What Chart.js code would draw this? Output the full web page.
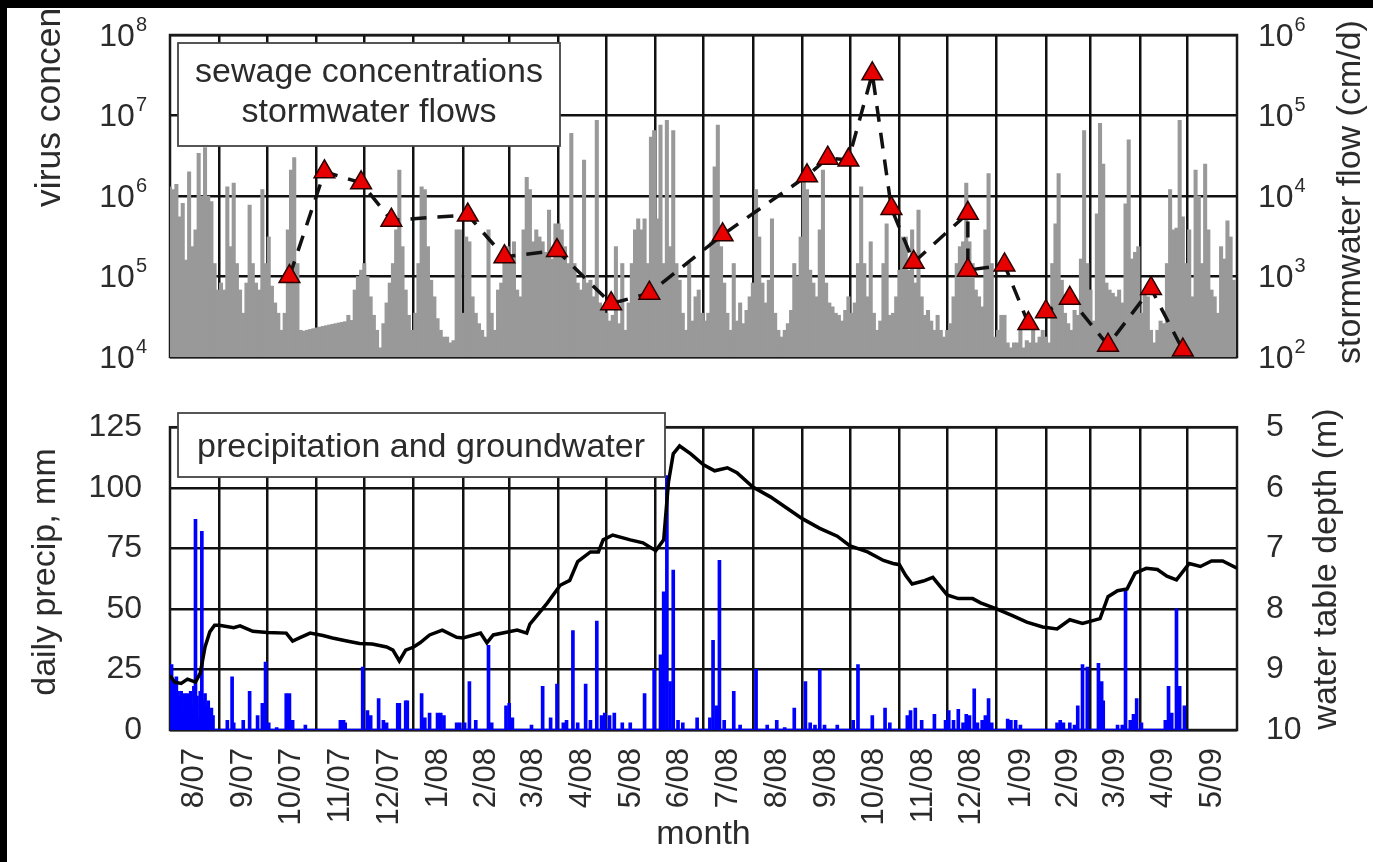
<!DOCTYPE html>
<html>
<head>
<meta charset="utf-8">
<script src="https://cdn.jsdelivr.net/npm/chart.js@4.4.1/dist/chart.umd.min.js"></script>
<style>
  html, body { margin: 0; padding: 0; background: #000; }
  #page { position: relative; width: 1373px; height: 862px; background: #fff; overflow: hidden; }
  canvas { position: absolute; left: 0; }
  #topChart { top: 0; }
  #bottomChart { top: 380px; }
  .mask { position: absolute; background: #000; z-index: 5; }
</style>
</head>
<body>
<div id="page">
  <canvas id="topChart" width="1373" height="380"></canvas>
  <canvas id="bottomChart" width="1373" height="482"></canvas>
  <div class="mask" style="left:0;top:0;width:1373px;height:8px"></div>
  <div class="mask" style="left:0;top:0;width:7px;height:862px"></div>
</div>
<script>
// --- data (x values are days since 1 Aug 2007) ---
const monthLabels = ['8/07', '9/07', '10/07', '11/07', '12/07', '1/08', '2/08', '3/08', '4/08', '5/08', '6/08',
  '7/08', '8/08', '9/08', '10/08', '11/08', '12/08', '1/09', '2/09', '3/09', '4/09', '5/09'];
const monthStartDays = [0, 31, 61, 92, 122, 153, 184, 213, 244, 274, 305, 335, 366, 397, 427, 458, 488, 519, 550, 578, 609, 639, 670];

const virusTicks = [1e4, 1e5, 1e6, 1e7, 1e8];
const flowTicks = [1e2, 1e3, 1e4, 1e5, 1e6];

// sewage virus concentrations (red triangles)
const virusDays = [75, 97, 120, 139, 187, 210, 243, 277, 301, 347, 400, 413, 426, 441, 453, 467, 501, 501, 524, 539, 550, 565, 589, 616, 636];
const virusConc = [1.0e5, 2.0e6, 1.46e6, 5.0e5, 5.8e5, 1.76e5, 2.1e5, 4.6e4, 6.2e4, 3.3e5, 1.78e6, 2.95e6, 2.8e6, 3.3e7,
  7.0e5, 1.5e5, 6.1e5, 1.2e5, 1.39e5, 2.6e4, 3.65e4, 5.35e4, 1.4e4, 7.1e4, 1.22e4];

// stormwater flow (cm/d), one value every 2 days
const flowStepDays = 2;
const flowCmPerDay = [
  // Aug 07
  13000, 12000, 14000, 5500, 8100, 1600, 20000, 2350, 3800, 34000, 10000, 40000, 10000, 8500, 1450, 680,
  // Sep 07
  830, 680, 13000, 2350, 14500, 1450, 680, 350, 830, 7700, 1450, 830, 680, 12000, 1450,
  // Oct 07
  3100, 760, 470, 350, 215, 350, 3800, 21000, 30000, 1450, 215, 210, 215, 220, 225,
  // Nov 07
  230, 235, 240, 245, 250, 255, 260, 265, 270, 275, 330, 285, 680, 1000, 1200,
  // Dec 07
  1450, 1000, 560, 330, 215, 130, 260, 470, 830, 1450, 3800, 21000, 2350, 680, 330, 215,
  // Jan 08
  350, 1450, 13000, 12000, 2350, 900, 560, 300, 215, 177, 177, 150, 160, 3800, 3800,
  // Feb 08
  350, 3100, 2700, 560, 350, 260, 215, 177, 3800, 350, 215, 680, 830, 1650, 2350,
  // Mar 08
  1450, 2700, 680, 560, 3800, 17000, 12000, 2700, 3800, 3100, 2700, 2000, 6700, 1650, 4500,
  // Apr 08
  4500, 3800, 2350, 1450, 60000, 1450, 830, 680, 28000, 830, 900, 560, 87000, 470, 420,
  // May 08
  350, 280, 330, 2350, 260, 1450, 215, 470, 1450, 3800, 5200, 3800, 5200, 1450, 54000, 65000,
  // Jun 08
  5200, 76000, 1450, 87000, 2350, 65000, 1450, 900, 350, 215, 1450, 280, 560, 680, 350,
  // Jul 08
  280, 350, 2700, 23000, 76000, 2350, 830, 350, 215, 1450, 280, 470, 260, 380, 560,
  // Aug 08
  830, 12000, 3100, 830, 470, 900, 5200, 350, 215, 177, 215, 260, 380, 1450, 1000, 3100,
  // Sep 08
  16000, 12000, 1200, 830, 560, 3800, 21000, 830, 470, 420, 350, 330, 280, 380, 560,
  // Oct 08
  350, 470, 1450, 13000, 1450, 560, 2700, 350, 215, 280, 1450, 4500, 330, 350, 560,
  // Nov 08
  1200, 3100, 3100, 1200, 3800, 830, 6700, 560, 330, 380, 280, 215, 330, 215, 177,
  // Dec 08
  215, 260, 560, 1450, 2350, 2700, 14500, 2700, 1450, 680, 560, 420, 3800, 19000, 1450, 177,
  // Jan 09
  215, 330, 330, 150, 130, 150, 150, 215, 130, 160, 150, 215, 150, 177, 215,
  // Feb 09
  177, 150, 1450, 4500, 19000, 900, 350, 260, 215, 380, 330, 1650, 65000, 1450,
  // Mar 09
  680, 280, 6000, 80000, 25000, 830, 680, 620, 560, 680, 470, 8000, 50000, 1650, 2000, 2350,
  // Apr 09
  350, 680, 560, 215, 150, 215, 280, 260, 1450, 12000, 3800, 4000, 87000, 5500, 1450,
  // May 09
  3800, 560, 21000, 10000, 1450, 25000, 3800, 680, 560, 350, 2350, 1650, 4900, 3100, 900
];

// daily precipitation (mm)
const precipDays = [0, 1, 2, 3, 4, 5, 6, 7, 8, 9, 10, 11, 12, 13, 14, 15, 16, 17, 18, 19, 20, 21, 22, 23, 24, 25, 26, 27,
  36, 39, 40, 46, 50, 55, 58, 60, 62, 67, 73, 75, 77, 85, 107, 109, 110, 121, 124, 126, 131, 134, 136, 143, 144, 148, 149,
  158, 160, 163, 168, 170, 172, 180, 182, 185, 188, 192, 200, 202, 211, 213, 215, 227, 234, 239, 243, 247, 249, 253, 256,
  261, 264, 268, 271, 273, 276, 279, 284, 289, 298, 304, 308, 310, 312, 314, 316, 319, 322, 331, 339, 341, 343, 345, 348,
  354, 358, 368, 375, 381, 386, 392, 399, 402, 405, 408, 411, 419, 429, 432, 441, 449, 452, 463, 465, 468, 472, 480, 487,
  489, 492, 495, 498, 500, 502, 505, 507, 510, 512, 514, 516, 526, 528, 531, 534, 557, 559, 561, 565, 568, 570, 573, 576,
  583, 585, 586, 595, 598, 600, 603, 605, 607, 610, 625, 627, 629, 632, 634, 637];
const precipMm = [18, 27, 20, 10, 22, 16, 14, 16, 8, 15, 13, 15, 11, 16, 10, 18, 87, 14, 5, 16, 82, 12, 15, 10, 12, 8, 9, 6,
  4, 22, 3, 4, 16, 6, 11, 28, 3, 1, 15, 15, 4, 2, 4, 4, 3, 26, 8, 6, 13, 4, 3, 11, 11, 12, 12,
  15, 5, 7, 7, 7, 6, 3, 3, 3, 20, 4, 35, 3, 10, 11, 5, 2, 18, 5, 19, 3, 4, 41, 3,
  19, 4, 45, 6, 7, 6, 7, 3, 3, 15, 25, 31, 57, 105, 20, 66, 4, 3, 5, 5, 37, 10, 70, 4,
  16, 2, 25, 2, 4, 1, 9, 20, 3, 2, 25, 2, 2, 4, 27, 6, 9, 3, 6, 8, 9, 4, 6.5, 4,
  8, 4, 8.5, 3, 6.5, 6, 17, 3, 4, 6, 13, 3, 4.5, 4, 4, 2, 3, 4, 3, 3, 2, 10, 27, 26,
  27.5, 20, 12, 2, 2, 58, 4, 6.5, 13, 3, 4, 18, 7, 50, 18, 10];
const precipRecordDays = [0, 639];

// water table depth (m)
const wtDays = [0, 3, 7, 11, 16, 19, 22, 25, 28, 31, 40, 44, 52, 61, 73, 77, 82, 88, 96, 102,
  111, 119, 127, 136, 140, 144, 148, 153, 157, 163, 171, 180, 184, 195, 199, 203, 218, 224, 226, 237,
  245, 251, 256, 264, 269, 272, 278, 289, 297, 305, 310, 313, 316, 320, 327, 335, 342, 350, 356, 366,
  377, 387, 397, 408, 419, 427, 438, 448, 454, 458, 462, 466, 473, 479, 488, 495, 504, 509, 519, 529,
  538, 548, 557, 565, 573, 584, 589, 595, 601, 606, 613, 620, 626, 632, 640, 647, 654, 661, 670];
const wtDepth = [9.10, 9.21, 9.23, 9.16, 9.21, 9.06, 8.63, 8.38, 8.27, 8.27, 8.31, 8.28, 8.37, 8.39, 8.40, 8.53, 8.47, 8.40, 8.44, 8.48,
  8.53, 8.57, 8.58, 8.63, 8.68, 8.86, 8.68, 8.63, 8.56, 8.43, 8.35, 8.47, 8.48, 8.40, 8.56, 8.43, 8.35, 8.40, 8.25, 7.90,
  7.61, 7.53, 7.22, 7.06, 7.06, 6.86, 6.78, 6.86, 6.91, 7.04, 6.86, 5.91, 5.44, 5.31, 5.44, 5.62, 5.72, 5.67, 5.75, 5.99,
  6.15, 6.33, 6.51, 6.67, 6.80, 6.96, 7.06, 7.20, 7.25, 7.27, 7.45, 7.59, 7.54, 7.48, 7.77, 7.83, 7.83, 7.90, 8.00, 8.11,
  8.22, 8.30, 8.33, 8.18, 8.24, 8.16, 7.80, 7.70, 7.67, 7.41, 7.33, 7.35, 7.46, 7.52, 7.25, 7.30, 7.21, 7.21, 7.33];

// --- styles ---
const FONT = '"Liberation Sans", Arial, Helvetica, sans-serif';
const TEXT = '#2b2b2b';
const GRID = '#111111';
Chart.defaults.font.family = FONT;
Chart.defaults.color = TEXT;

const innerMonthStarts = monthStartDays.slice(1, -1);

function monthGridAxis(extra) {
  return Object.assign({
    type: 'linear',
    min: monthStartDays[0],
    max: monthStartDays[monthStartDays.length - 1],
    offset: false,
    afterBuildTicks: s => { s.ticks = innerMonthStarts.map(v => ({ value: v })); },
    ticks: { display: false },
    grid: { color: GRID, lineWidth: 2.5, drawTicks: false, offset: false },
    border: { display: false },
    afterFit: s => { s.height = 0; }
  }, extra);
}

function framePlugin(stage) {
  const hook = { id: 'frame_' + stage };
  hook[stage] = chart => {
    const { ctx, chartArea: a } = chart;
    ctx.save();
    ctx.strokeStyle = '#1a1a1a';
    ctx.lineWidth = 2.5;
    ctx.strokeRect(a.left, a.top, a.right - a.left, a.bottom - a.top);
    ctx.restore();
  };
  return hook;
}

function drawRotated(ctx, text, x, y, align, size) {
  ctx.save();
  ctx.translate(x, y);
  ctx.rotate(-Math.PI / 2);
  ctx.font = `${size || 34}px ${FONT}`;
  ctx.fillStyle = TEXT;
  ctx.textAlign = align;
  ctx.textBaseline = 'middle';
  ctx.fillText(text, 0, 0);
  ctx.restore();
}

function drawPower(ctx, value, x, y, align) {
  const exp = String(Math.round(Math.log10(value)));
  ctx.font = `32px ${FONT}`;
  const baseW = ctx.measureText('10').width;
  ctx.font = `20px ${FONT}`;
  const expW = ctx.measureText(exp).width;
  const x0 = align === 'right' ? x - baseW - expW - 1 : x;
  ctx.fillStyle = TEXT;
  ctx.textAlign = 'left';
  ctx.textBaseline = 'middle';
  ctx.font = `32px ${FONT}`;
  ctx.fillText('10', x0, y + 2);
  ctx.font = `20px ${FONT}`;
  ctx.fillText(exp, x0 + baseW + 1, y - 10);
}

function drawBox(ctx, x, y, w, h, lines, lineYs, cx) {
  ctx.save();
  ctx.fillStyle = '#fff';
  ctx.fillRect(x, y, w, h);
  ctx.strokeStyle = '#444';
  ctx.lineWidth = 1.8;
  ctx.strokeRect(x, y, w, h);
  ctx.fillStyle = TEXT;
  ctx.font = `34px ${FONT}`;
  ctx.textAlign = 'center';
  ctx.textBaseline = 'middle';
  lines.forEach((t, i) => ctx.fillText(t, cx, lineYs[i]));
  ctx.restore();
}

// --- top panel: virus concentrations + stormwater flows ---
const topDecor = {
  id: 'topDecor',
  afterDraw(chart) {
    const { ctx } = chart;
    const yV = chart.scales.yV, yF = chart.scales.yF;
    ctx.save();
    virusTicks.forEach(v => drawPower(ctx, v, 147, yV.getPixelForValue(v), 'right'));
    flowTicks.forEach(v => drawPower(ctx, v, 1258, yF.getPixelForValue(v), 'left'));
    drawRotated(ctx, 'virus concentration (gc/L)', 50, 207, 'left', 35.5);
    drawRotated(ctx, 'stormwater flow (cm/d)', 1351, 192, 'center');
    drawBox(ctx, 178, 43, 382, 103, ['sewage concentrations', 'stormwater flows'], [73, 113], 369);
    ctx.restore();
  }
};

new Chart(document.getElementById('topChart'), {
  type: 'bar',
  data: {
    datasets: [
      {
        type: 'line',
        data: virusDays.map((d, i) => ({ x: d, y: virusConc[i] })),
        xAxisID: 'x', yAxisID: 'yV', order: 0, clip: false,
        borderColor: '#111', borderWidth: 3.5, borderDash: [16, 11], fill: false, tension: 0,
        pointStyle: 'triangle', pointRadius: 12, pointBackgroundColor: '#e60000',
        pointBorderColor: '#2a0000', pointBorderWidth: 1.5
      },
      {
        type: 'bar',
        data: flowCmPerDay.map((v, i) => ({ x: i * flowStepDays, y: v })),
        xAxisID: 'x', yAxisID: 'yF', order: 1,
        backgroundColor: '#999999', barThickness: 3.4, borderWidth: 0
      }
    ]
  },
  options: {
    responsive: false, animation: false, devicePixelRatio: 1,
    layout: { padding: { top: 35, bottom: 23, left: 0, right: 0 } },
    plugins: { legend: { display: false }, tooltip: { enabled: false } },
    scales: {
      x: monthGridAxis(),
      yV: {
        type: 'logarithmic', position: 'left', min: virusTicks[0], max: virusTicks[virusTicks.length - 1],
        afterBuildTicks: s => { s.ticks = virusTicks.map(v => ({ value: v })); },
        ticks: { display: false },
        grid: { color: GRID, lineWidth: 2.5, drawTicks: false },
        border: { display: false },
        afterFit: s => { s.width = 170; }
      },
      yF: {
        type: 'logarithmic', position: 'right', min: flowTicks[0], max: flowTicks[flowTicks.length - 1],
        afterBuildTicks: s => { s.ticks = flowTicks.map(v => ({ value: v })); },
        ticks: { display: false },
        grid: { display: false },
        border: { display: false },
        afterFit: s => { s.width = 136; }
      }
    }
  },
  plugins: [framePlugin('beforeDatasetsDraw'), topDecor]
});

// --- bottom panel: precipitation + groundwater ---
const bottomDecor = {
  id: 'bottomDecor',
  afterDraw(chart) {
    const { ctx, scales: { x }, chartArea: a } = chart;
    ctx.save();
    ctx.fillStyle = TEXT;
    ctx.font = `31px ${FONT}`;
    ctx.textAlign = 'right';
    ctx.textBaseline = 'middle';
    monthLabels.forEach((lab, i) => {
      const mid = (monthStartDays[i] + monthStartDays[i + 1]) / 2;
      ctx.save();
      ctx.translate(x.getPixelForValue(mid), a.bottom + 18);
      ctx.rotate(-Math.PI / 2);
      ctx.fillText(lab, 0, 0);
      ctx.restore();
    });
    ctx.textAlign = 'center';
    ctx.font = `34px ${FONT}`;
    ctx.fillText('month', (a.left + a.right) / 2, 455);
    drawRotated(ctx, 'daily precip, mm', 46, 192, 'center');
    drawRotated(ctx, 'water table depth (m)', 1327, 189, 'center');
    drawBox(ctx, 178, 33, 487, 64, ['precipitation and groundwater'], [68], 421);
    ctx.restore();
  }
};

new Chart(document.getElementById('bottomChart'), {
  type: 'bar',
  data: {
    datasets: [
      {
        type: 'line',
        data: wtDays.map((d, i) => ({ x: d, y: wtDepth[i] })),
        xAxisID: 'x', yAxisID: 'yD', order: 0,
        borderColor: '#000', borderWidth: 3.5, pointRadius: 0, tension: 0, fill: false
      },
      {
        type: 'line',
        data: precipRecordDays.map(d => ({ x: d, y: 0 })),
        xAxisID: 'x', yAxisID: 'yP', order: 1,
        borderColor: '#0000ff', borderWidth: 2.5, pointRadius: 0, fill: false
      },
      {
        type: 'bar',
        data: precipDays.map((d, i) => ({ x: d, y: precipMm[i] })),
        xAxisID: 'x', yAxisID: 'yP', order: 2,
        backgroundColor: '#0000ff', barThickness: 3, borderWidth: 0
      }
    ]
  },
  options: {
    responsive: false, animation: false, devicePixelRatio: 1,
    layout: { padding: { top: 32, bottom: 0, left: 0, right: 0 } },
    plugins: { legend: { display: false }, tooltip: { enabled: false } },
    scales: {
      x: monthGridAxis({ afterFit: s => { s.height = 132; } }),
      yP: {
        type: 'linear', position: 'left', min: 0, max: 125,
        ticks: { stepSize: 25, padding: 28, font: { size: 32 }, color: TEXT },
        grid: { color: GRID, lineWidth: 2.5, drawTicks: false },
        border: { display: false },
        afterFit: s => { s.width = 170; }
      },
      yD: {
        type: 'linear', position: 'right', reverse: true, min: 5, max: 10,
        ticks: { stepSize: 1, padding: 21, font: { size: 32 }, color: TEXT },
        grid: { display: false },
        border: { display: false },
        afterFit: s => { s.width = 136; }
      }
    }
  },
  plugins: [framePlugin('beforeDatasetsDraw'), bottomDecor]
});
</script>
</body>
</html>
